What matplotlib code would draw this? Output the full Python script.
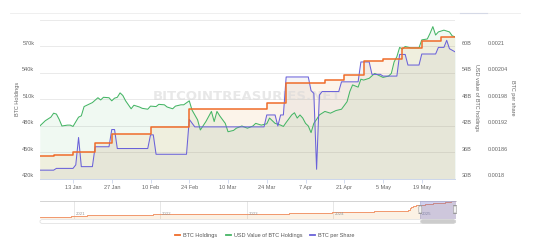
import numpy as np
import matplotlib
matplotlib.use("Agg")
import matplotlib.pyplot as plt
from matplotlib.patches import FancyBboxPatch
from matplotlib.lines import Line2D

plt.rcParams['font.family'] = ['Liberation Sans', 'DejaVu Sans']

# ---------------- data ----------------
START = np.datetime64('2025-01-01')
END = np.datetime64('2025-05-31')

holdings_dates = ['2025-01-01', '2025-01-06', '2025-01-13', '2025-01-21', '2025-01-27', '2025-02-10',
                  '2025-02-24', '2025-03-17', '2025-03-24', '2025-03-31', '2025-04-14', '2025-04-21',
                  '2025-04-28', '2025-05-05', '2025-05-12', '2025-05-19', '2025-05-26', '2025-05-31']
holdings_k = [446.4, 447.5, 450.0, 461.0, 471.1, 478.7, 499.1, 499.2, 506.1, 528.2, 531.6, 538.2,
              553.6, 555.5, 568.8, 576.2, 580.3, 580.3]

usd_days = [0, 2, 4, 5, 6, 7, 8, 10, 11, 12, 14, 15, 16, 18, 19, 21, 22, 23, 25, 26,
            27, 28, 29, 30, 31, 32, 33, 34, 36, 37, 39, 40, 42, 43, 45, 46, 48, 49, 51, 52,
            54, 55, 57, 58, 60, 62, 63, 64, 65, 67, 68, 70, 71, 73, 75, 77, 78, 80, 82, 83,
            85, 87, 88, 89, 91, 92, 93, 94, 95, 96, 97, 98, 99, 100, 101, 103, 105, 107, 109, 111,
            112, 113, 115, 116, 117, 119, 121, 123, 124, 126, 127, 128, 129, 130, 131, 132, 134, 137, 138, 140,
            141, 142, 143, 144, 146, 148, 149, 150]
usd_bn = [42.0, 43.2, 44.0, 44.9, 44.7, 43.5, 42.0, 42.2, 42.2, 41.9, 44.0, 44.3, 46.4, 47.0, 47.3, 48.4, 47.9, 48.5, 48.4, 47.7,
          48.3, 48.5, 49.5, 48.9, 47.7, 46.8, 45.9, 46.7, 46.3, 46.0, 45.8, 46.5, 46.4, 46.9, 46.8, 46.3, 45.9, 46.5, 46.8, 46.8,
          47.7, 45.6, 43.4, 41.1, 43.0, 45.3, 43.0, 45.3, 44.3, 42.6, 40.7, 41.0, 41.5, 42.0, 41.5, 42.0, 42.6, 42.2, 42.5, 43.8,
          42.6, 42.2, 41.9, 42.8, 44.5, 45.0, 43.8, 44.5, 43.8, 42.6, 42.0, 40.5, 42.6, 43.5, 44.5, 45.3, 44.9, 45.5, 45.8, 47.5,
          49.8, 51.3, 50.8, 52.6, 52.4, 52.8, 53.9, 53.3, 53.0, 53.3, 53.9, 56.5, 57.7, 59.8, 59.4, 60.0, 59.7, 59.7, 61.5, 61.7,
          63.0, 64.5, 62.6, 63.3, 63.7, 63.3, 62.4, 62.2]

share_days = [0, 5, 6, 12, 13, 14, 15, 19, 20, 25, 26, 27, 28, 39, 40, 41, 42, 53, 54, 56,
              81, 82, 85, 86, 87, 88, 89, 97, 98, 99, 100, 101, 102, 108, 109, 115, 116, 119, 120, 123,
              124, 129, 130, 132, 133, 137, 138, 143, 144, 146, 147, 148, 150]
btc_per_share = [0.001820, 0.001820, 0.001824, 0.001824, 0.001832, 0.001894, 0.001828, 0.001828, 0.001873, 0.001873,
                 0.001912, 0.001912, 0.001869, 0.001869, 0.001900, 0.001900, 0.001856, 0.001856, 0.001935, 0.001918,
                 0.001918, 0.001945, 0.001945, 0.001920, 0.001945, 0.001945, 0.002031, 0.002031, 0.002000, 0.001994,
                 0.001822, 0.001990, 0.001998, 0.001998, 0.002020, 0.002020, 0.002065, 0.002065, 0.002037, 0.002037,
                 0.002033, 0.002033, 0.002082, 0.002082, 0.002058, 0.002058, 0.002083, 0.002083, 0.002098, 0.002098,
                 0.002114, 0.002095, 0.002088]

xtick_dates = ['2025-01-13', '2025-01-27', '2025-02-10', '2025-02-24', '2025-03-10',
               '2025-03-24', '2025-04-07', '2025-04-21', '2025-05-05', '2025-05-19']
xtick_labels = ['13 Jan', '27 Jan', '10 Feb', '24 Feb', '10 Mar', '24 Mar', '7 Apr', '21 Apr', '5 May', '19 May']

left_ticks = [420, 450, 480, 510, 540, 570, 600]
left_labels = ['420k', '450k', '480k', '510k', '540k', '570k', '']
usd_ticks = [30, 36, 42, 48, 54, 60, 66]
usd_labels = ['30B', '36B', '42B', '48B', '54B', '60B', '']
share_ticks = [0.0018, 0.00186, 0.00192, 0.00198, 0.00204, 0.0021, 0.00216]
share_labels = ['0.0018', '0.00186', '0.00192', '0.00198', '0.00204', '0.0021', '']

nav_dates = ['2020-08-11', '2020-09-14', '2020-12-04', '2020-12-21', '2021-02-24', '2021-05-18',
             '2021-06-21', '2021-09-13', '2021-11-29', '2021-12-30', '2022-04-05', '2022-09-20',
             '2022-12-27', '2023-03-27', '2023-06-28', '2023-09-25', '2023-11-30', '2023-12-27',
             '2024-03-11', '2024-03-19', '2024-06-20', '2024-09-13', '2024-09-20', '2024-11-11',
             '2024-11-18', '2024-11-25', '2024-12-02', '2024-12-09', '2024-12-16', '2024-12-30']
nav_k = [21.5, 38.3, 40.8, 70.5, 90.5, 92.1, 105.1, 114.0, 121.0, 124.4, 129.2, 130.0,
         132.5, 138.9, 152.3, 158.2, 174.5, 189.2, 205.0, 214.2, 226.3, 244.8, 252.2, 279.4,
         331.2, 386.7, 402.1, 423.7, 439.0, 446.4]
nav_years = ['2021', '2022', '2023', '2024', '2025']

legend_labels = ['BTC Holdings', 'USD Value of BTC Holdings', 'BTC per Share']

# ---------------- style ----------------
ORANGE = '#ef6c2a'
GREEN = '#45b565'
PURPLE = '#6a62d9'
ORANGE_FILL = '#e8a040'
PURPLE_FILL = '#7a7490'
TXT = '#666666'
FS = 4.0
W, H, DPI = 534, 250, 100


def fr(x0, y0, x1, y1):
    return [x0 / W, 1 - y1 / H, (x1 - x0) / W, (y1 - y0) / H]


def px2pt(p):
    return p * 72.0 / DPI


fig = plt.figure(figsize=(W / DPI, H / DPI), dpi=DPI)
fig.patch.set_facecolor('white')

ax = fig.add_axes(fr(39.8, 20, 455, 179))
ax2 = ax.twinx()
ax3 = ax.twinx()
for a in (ax, ax2, ax3):
    for s in a.spines.values():
        s.set_visible(False)
    a.tick_params(axis='y', left=False, right=False, labelleft=False, labelright=False)
ax.spines['bottom'].set_visible(True)
ax.spines['bottom'].set_color('#ccd6eb')
ax.spines['bottom'].set_linewidth(0.7)

h_d = np.array(holdings_dates, dtype='datetime64[D]')
u_d = START + np.array(usd_days).astype('timedelta64[D]')
s_d = START + np.array(share_days).astype('timedelta64[D]')

# gridlines
for v in left_ticks[1:]:
    ax.axhline(v, color='#e6e6e6', lw=0.6, zorder=0.5)

# fills (alpha blended, green -> orange -> purple)
ax.fill_between(u_d, usd_bn, usd_ticks[0], transform=ax2.transData, color=GREEN, alpha=0.08, lw=0, zorder=1.0)
ax.fill_between(h_d, holdings_k, left_ticks[0], step='post', color=ORANGE_FILL, alpha=0.11, lw=0, zorder=1.1)
ax.fill_between(s_d, btc_per_share, share_ticks[0], transform=ax3.transData, color=PURPLE_FILL, alpha=0.07, lw=0, zorder=1.2)

# watermark
ax.text(0.499, 0.516, 'BITCOINTREASURIES.NET', transform=ax.transAxes, ha='center', va='center',
        fontsize=9.5, fontweight='bold', color='#d9d9d9', alpha=0.6, family=['DejaVu Sans'], zorder=1.5)

# lines
ax.plot(u_d, usd_bn, transform=ax2.transData, color=GREEN, lw=0.75, zorder=2.0)
ax.plot(s_d, btc_per_share, transform=ax3.transData, color=PURPLE, lw=0.75, zorder=2.5)
ax.plot(h_d, holdings_k, drawstyle='steps-post', color=ORANGE, lw=1.1, zorder=3.0)

ax.set_xlim(START, END)
ax.set_ylim(left_ticks[0], left_ticks[-1])
ax2.set_ylim(usd_ticks[0], usd_ticks[-1])
ax3.set_ylim(share_ticks[0], share_ticks[-1])

ax.set_xticks(np.array(xtick_dates, dtype='datetime64[D]'))
ax.set_xticklabels(xtick_labels)
ax.tick_params(axis='x', length=px2pt(3.5), width=0.6, color='#ccd6eb', labelsize=FS,
               labelcolor=TXT, pad=1.8)
for a in (ax2, ax3):
    a.tick_params(axis='x', bottom=False, labelbottom=False)


def ylabels(axis, values, labels, xa, dx, ha):
    for v, lab in zip(values, labels):
        if not lab:
            continue
        axis.annotate(lab, xy=(xa, v), xycoords=axis.get_yaxis_transform(),
                      xytext=(px2pt(dx), px2pt(3.2)), textcoords='offset points',
                      ha=ha, va='center', fontsize=FS, color=TXT, annotation_clip=False)


ylabels(ax, left_ticks, left_labels, 0, -5.5, 'right')
ylabels(ax2, usd_ticks, usd_labels, 1, 7, 'left')
ylabels(ax3, share_ticks, share_labels, 1, 33, 'left')

fig.text(17 / W, 1 - 99 / H, 'BTC Holdings', rotation=90, ha='center', va='center', fontsize=FS, color=TXT)
fig.text(477 / W, 1 - 98 / H, 'USD value of BTC holdings', rotation=270, ha='center', va='center', fontsize=FS, color=TXT)
fig.text(513 / W, 1 - 98 / H, 'BTC per share', rotation=270, ha='center', va='center', fontsize=FS, color=TXT)

# top faint line
fig.add_artist(Line2D([10 / W, 520 / W], [1 - 13.3 / H] * 2, color='#ececec', lw=0.6))
fig.add_artist(Line2D([460 / W, 487 / W], [1 - 13.3 / H] * 2, color='#d5d9e6', lw=0.8))

# ---------------- navigator ----------------
axn = fig.add_axes(fr(40, 200.5, 455.7, 218.5))
axn.axis('off')
n_d = np.concatenate([np.array(nav_dates, dtype='datetime64[D]'), h_d])
n_v = np.concatenate([np.array(nav_k), np.array(holdings_k)])
axn.set_xlim(np.datetime64(nav_dates[0]), END)
axn.set_ylim(-20, 597)
for yr in nav_years:
    d = np.datetime64(yr + '-01-01')
    axn.axvline(d, color='#e3e3e3', lw=0.6, zorder=0.5)
    axn.annotate(yr, xy=(d, 0.23), xycoords=('data', 'axes fraction'), xytext=(px2pt(1.5), 0),
                 textcoords='offset points', ha='left', va='center', fontsize=3.2, color='#999999')
axn.fill_between(n_d, n_v, -20, step='post', color=ORANGE_FILL, alpha=0.14, lw=0, zorder=1)
axn.plot(n_d, n_v, drawstyle='steps-post', color='#f08a5a', lw=0.6, zorder=2)
axn.plot([0, 1], [1, 1], transform=axn.transAxes, color='#cccccc', lw=0.6, clip_on=False)
axn.axvspan(START, END, color='#6666cc', alpha=0.3, lw=0, zorder=3)


def fig_box(x0, y0, x1, y1, **kw):
    p = FancyBboxPatch((x0 / W, 1 - y1 / H), (x1 - x0) / W, (y1 - y0) / H,
                       boxstyle='round,pad=0,rounding_size=0.006', transform=fig.transFigure, **kw)
    fig.add_artist(p)


# handles
fig_box(418.8, 205.5, 421.8, 213.5, facecolor='#f2f2f2', edgecolor='#999999', lw=0.4)
fig_box(453.5, 205.5, 456.5, 213.5, facecolor='#f2f2f2', edgecolor='#999999', lw=0.4)
# scrollbar
fig_box(40, 219.5, 455.7, 223.5, facecolor='#ffffff', edgecolor='#dddddd', lw=0.5)
fig_box(420.5, 219.7, 455.5, 223.3, facecolor='#cccccc', edgecolor='#cccccc', lw=0.3)

# ---------------- legend ----------------
leg_y = 1 - 235.2 / H
leg_items = [(174.8, 182.6, ORANGE), (225.7, 233.5, GREEN), (310.0, 318.4, PURPLE)]
for (lx, tx, col), lab in zip(leg_items, legend_labels):
    fig.add_artist(Line2D([lx / W, (lx + 5.3) / W], [leg_y, leg_y], color=col, lw=1.3))
    fig.text(tx / W, leg_y, lab, ha='left', va='center', fontsize=FS, color='#555555')

fig.savefig('out.png', dpi=DPI, facecolor='white')
